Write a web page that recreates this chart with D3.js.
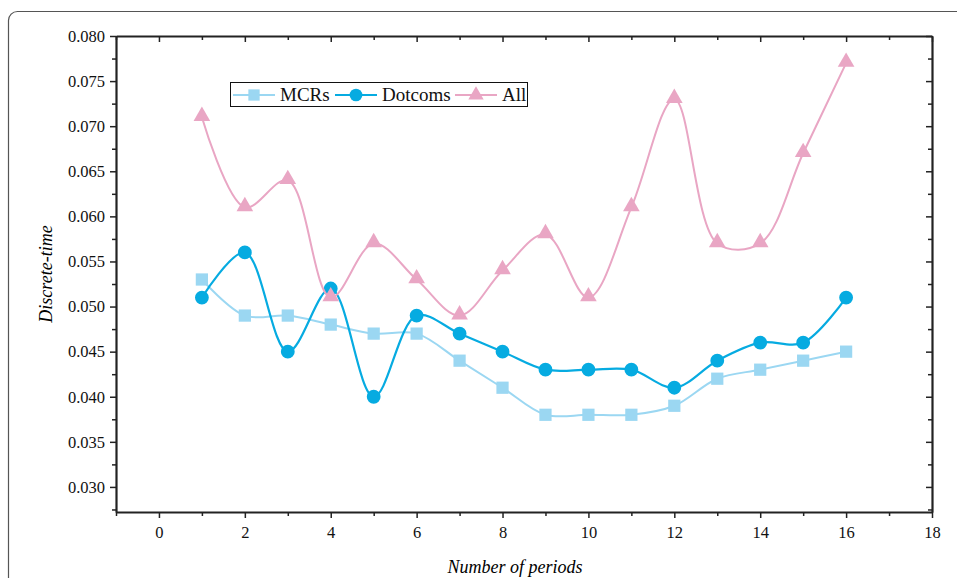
<!DOCTYPE html>
<html>
<head>
<meta charset="utf-8">
<script src="https://cdn.jsdelivr.net/npm/d3@7"></script>
<style>
  body { margin: 0; background: #fff; }
</style>
</head>
<body>
<div id="chart"></div>
<script>
// data
const periods = [1, 2, 3, 4, 5, 6, 7, 8, 9, 10, 11, 12, 13, 14, 15, 16]
const mcrs = [0.053, 0.049, 0.049, 0.048, 0.047, 0.047, 0.044, 0.041, 0.038, 0.038, 0.038, 0.039, 0.042, 0.043, 0.044, 0.045]
const dotcoms = [0.051, 0.056, 0.045, 0.052, 0.040, 0.049, 0.047, 0.045, 0.043, 0.043, 0.043, 0.041, 0.044, 0.046, 0.046, 0.051]
const all = [0.071, 0.061, 0.064, 0.051, 0.057, 0.053, 0.049, 0.054, 0.058, 0.051, 0.061, 0.073, 0.057, 0.057, 0.067, 0.077]
const xTicks = [0, 2, 4, 6, 8, 10, 12, 14, 16, 18]
const yTicks = [0.030, 0.035, 0.040, 0.045, 0.050, 0.055, 0.060, 0.065, 0.070, 0.075, 0.080]

const serif = "'Liberation Serif', 'Times New Roman', serif"
const W = 957, H = 578
const margin = { top: 36, right: 25, bottom: 66, left: 116 }
const width = W - margin.left - margin.right
const height = H - margin.top - margin.bottom

const svg = d3.select("#chart").append("svg")
    .attr("width", W)
    .attr("height", H)

// rounded outer frame (runs off the right and bottom edges)
svg.append("rect")
    .attr("x", 8.5).attr("y", 11.5)
    .attr("width", 1000).attr("height", 700)
    .attr("rx", 9)
    .attr("fill", "none")
    .attr("stroke", "#555")
    .attr("stroke-width", 1.2)

const g = svg.append("g")
    .attr("transform", "translate(" + margin.left + "," + margin.top + ")")

const x = d3.scaleLinear().domain([-1, 18]).range([0, width])
const y = d3.scaleLinear().domain([0.02722, 0.080]).range([height, 0])

const xMinor = d3.range(-1, 18, 2)
const yMinor = d3.range(0.0275, 0.080, 0.005)

// bottom axis
const axBottom = g.append("g")
    .attr("transform", "translate(0," + height + ")")
    .call(d3.axisBottom(x).tickValues(xTicks).tickFormat(d3.format("d")).tickSize(6).tickSizeOuter(0).tickPadding(8))
axBottom.append("g").attr("class", "minor")
    .call(d3.axisBottom(x).tickValues(xMinor).tickFormat("").tickSize(4).tickSizeOuter(0))

// left axis
const axLeft = g.append("g")
    .call(d3.axisLeft(y).tickValues(yTicks).tickFormat(d3.format(".3f")).tickSize(6).tickSizeOuter(0).tickPadding(5))
axLeft.append("g").attr("class", "minor")
    .call(d3.axisLeft(y).tickValues(yMinor).tickFormat("").tickSize(4).tickSizeOuter(0))

// top axis, ticks inward
const axTop = g.append("g")
    .call(d3.axisTop(x).tickValues(xTicks).tickFormat("").tickSize(-6).tickSizeOuter(0))
axTop.append("g").attr("class", "minor")
    .call(d3.axisTop(x).tickValues(xMinor).tickFormat("").tickSize(-4).tickSizeOuter(0))

// right axis, ticks inward
const axRight = g.append("g")
    .attr("transform", "translate(" + width + ",0)")
    .call(d3.axisRight(y).tickValues(yTicks).tickFormat("").tickSize(-6).tickSizeOuter(0))
axRight.append("g").attr("class", "minor")
    .call(d3.axisRight(y).tickValues(yMinor).tickFormat("").tickSize(-4).tickSizeOuter(0))

g.selectAll(".minor .domain").remove()
g.selectAll(".domain").attr("stroke", "#222").attr("stroke-width", 2.2)
g.selectAll(".tick line").attr("stroke", "#222").attr("stroke-width", 1.5)
g.selectAll(".tick text")
    .style("font-family", serif)
    .style("font-size", "16.5px")
    .attr("fill", "#111")

// axis titles
svg.append("text")
    .attr("x", margin.left + width / 2 - 9)
    .attr("y", 573)
    .attr("text-anchor", "middle")
    .style("font-family", serif)
    .style("font-size", "18px")
    .style("font-style", "italic")
    .text("Number of periods")

svg.append("text")
    .attr("transform", "translate(52," + (margin.top + height / 2) + ") rotate(-90)")
    .attr("text-anchor", "middle")
    .style("font-family", serif)
    .style("font-size", "18px")
    .style("font-style", "italic")
    .text("Discrete-time")

const series = [
    { name: "MCRs", values: mcrs, color: "#9bd7f2", width: 2, shape: d3.symbolSquare, size: 150 },
    { name: "Dotcoms", values: dotcoms, color: "#06abe1", width: 2.2, shape: d3.symbolCircle, size: 150 },
    { name: "All", values: all, color: "#e9a6c4", width: 2, shape: d3.symbolTriangle, size: 120 }
]

const line = d3.line()
    .x(d => x(d[0]))
    .y(d => y(d[1]))
    .curve(d3.curveCatmullRom.alpha(0.5))

series.forEach(s => {
    const pts = periods.map((p, i) => [p, s.values[i]])
    g.append("path")
        .datum(pts)
        .attr("fill", "none")
        .attr("stroke", s.color)
        .attr("stroke-width", s.width)
        .attr("d", line)

    g.selectAll(".pt-" + s.name)
        .data(pts)
        .enter()
        .append("path")
        .attr("class", "pt-" + s.name)
        .attr("d", d3.symbol().type(s.shape).size(s.size))
        .attr("transform", d => "translate(" + x(d[0]) + "," + (y(d[1]) - (s.shape === d3.symbolTriangle ? 1 : 0)) + ")")
        .attr("fill", s.color)
})

// legend
const legend = svg.append("g")
legend.append("rect")
    .attr("x", 230.5).attr("y", 82.5)
    .attr("width", 297).attr("height", 24)
    .attr("fill", "#fff")
    .attr("stroke", "#111")
    .attr("stroke-width", 1)

const legendX = [233, 335, 455]
series.forEach((s, i) => {
    const lx = legendX[i]
    legend.append("line")
        .attr("x1", lx).attr("x2", lx + 42)
        .attr("y1", 95).attr("y2", 95)
        .attr("stroke", s.color)
        .attr("stroke-width", s.width)
    legend.append("path")
        .attr("d", d3.symbol().type(s.shape).size(s.size * 0.85))
        .attr("transform", "translate(" + (lx + 21) + ",95)")
        .attr("fill", s.color)
    legend.append("text")
        .attr("x", lx + 47)
        .attr("y", 101)
        .style("font-family", serif)
        .style("font-size", "19px")
        .attr("fill", "#111")
        .text(s.name)
})
</script>
</body>
</html>
